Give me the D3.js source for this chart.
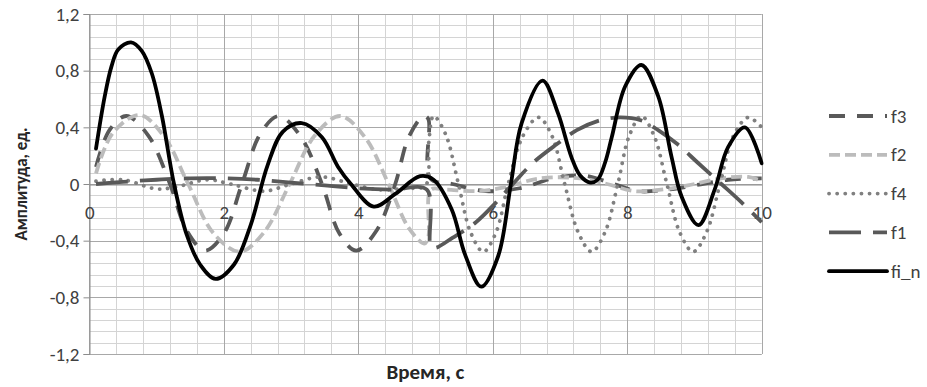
<!DOCTYPE html>
<html>
<head>
<meta charset="utf-8">
<script src="https://cdn.jsdelivr.net/npm/d3@7"></script>
<style>
    body { margin: 0; background: #fff; }
    svg { display: block; font-family: Calibri, Carlito, Lato, sans-serif; }
</style>
</head>
<body>
<div id="chart"></div>
<script>
const WIDTH = 927
const HEIGHT = 387

// time, amplitude pairs
const f3 = [
    [0.1, 0.12], [0.3, 0.38], [0.55, 0.48], [0.88, 0.34], [1.2, 0], [1.45, -0.33],
    [1.72, -0.47], [2.0, -0.35], [2.27, 0], [2.55, 0.36], [2.82, 0.48], [3.15, 0.33],
    [3.46, 0], [3.72, -0.35], [3.97, -0.47], [4.27, -0.33], [4.55, 0], [4.75, 0.33],
    [4.97, 0.48], [5.04, 0.46], [5.07, 0.04], [5.4, 0], [5.9, -0.05], [6.4, -0.03],
    [6.9, 0.04], [7.35, 0.06], [7.8, 0], [8.15, -0.05], [8.6, -0.04], [9.0, -0.01],
    [9.5, 0.03], [10, 0.04]
]
const f2 = [
    [0.1, 0.075], [0.35, 0.36], [0.75, 0.487], [1.12, 0.33], [1.47, 0], [1.85, -0.35],
    [2.24, -0.478], [2.6, -0.34], [2.98, 0], [3.35, 0.34], [3.73, 0.48], [4.1, 0.33],
    [4.45, 0], [4.75, -0.31], [4.98, -0.42], [5.04, -0.38], [5.08, -0.04], [5.3, -0.04],
    [5.8, -0.05], [6.2, -0.02], [6.7, 0.04], [7.3, 0.04], [7.7, 0], [8.1, -0.05],
    [8.5, -0.04], [8.9, -0.01], [9.4, 0.04], [9.8, 0.05], [10, 0.02]
]
const f4 = [
    [0.1, 0.02], [0.5, 0.03], [1.0, -0.035], [1.3, -0.02], [1.75, 0.03], [2.1, 0],
    [2.6, -0.05], [3.0, 0], [3.45, 0.05], [3.9, 0], [4.3, -0.04], [4.7, -0.03],
    [5.0, -0.01], [5.05, 0.3], [5.12, 0.48], [5.3, 0.35], [5.49, 0], [5.67, -0.34],
    [5.86, -0.478], [6.05, -0.34], [6.23, 0], [6.45, 0.34], [6.68, 0.47], [6.88, 0.34],
    [7.07, 0], [7.27, -0.34], [7.47, -0.478], [7.67, -0.34], [7.86, 0], [8.03, 0.34],
    [8.21, 0.48], [8.4, 0.34], [8.59, 0], [8.78, -0.34], [8.98, -0.478], [9.18, -0.34],
    [9.38, 0], [9.58, 0.34], [9.8, 0.47], [10, 0.4]
]
const f1 = [
    [0.1, 0], [0.5, 0.015], [1.0, 0.03], [1.5, 0.04], [2.0, 0.04], [2.5, 0.03],
    [3.0, 0.01], [3.5, -0.01], [4.0, -0.03], [4.5, -0.04], [5.02, -0.04], [5.08, -0.44],
    [5.15, -0.45], [5.4, -0.38], [5.75, -0.27], [6.05, -0.13], [6.3, 0], [6.6, 0.15],
    [6.95, 0.28], [7.25, 0.38], [7.6, 0.45], [7.9, 0.47], [8.2, 0.45], [8.46, 0.38],
    [8.75, 0.28], [9.05, 0.15], [9.4, 0], [9.7, -0.13], [10, -0.27]
]
const fiN = [
    [0.1, 0.25], [0.23, 0.62], [0.33, 0.83], [0.43, 0.95], [0.62, 1.0], [0.78, 0.94],
    [0.93, 0.78], [1.08, 0.48], [1.26, 0], [1.45, -0.36], [1.65, -0.57], [1.88, -0.67],
    [2.15, -0.57], [2.4, -0.29], [2.65, 0.13], [2.88, 0.37], [3.16, 0.43], [3.46, 0.33],
    [3.7, 0.12], [3.89, 0], [4.23, -0.16], [4.55, -0.07], [4.92, 0.055], [5.12, 0.03],
    [5.39, -0.18], [5.59, -0.5], [5.83, -0.725], [6.08, -0.51], [6.27, 0], [6.43, 0.43],
    [6.74, 0.73], [6.97, 0.5], [7.17, 0.19], [7.3, 0.06], [7.45, 0.01], [7.56, 0.03],
    [7.67, 0.15], [7.77, 0.33], [7.97, 0.69], [8.21, 0.84], [8.46, 0.62], [8.66, 0.19],
    [8.81, -0.09], [9.06, -0.29], [9.3, -0.04], [9.5, 0.26], [9.75, 0.4], [10, 0.146]
]

const seriesNames = ['f3', 'f2', 'f4', 'f1', 'fi_n']
const seriesData = [f3, f2, f4, f1, fiN]

const xTicks = [0, 2, 4, 6, 8, 10]
const yTicks = [-1.2, -0.8, -0.4, 0, 0.4, 0.8, 1.2]
const yTickLabels = ['-1,2', '-0,8', '-0,4', '0', '0,4', '0,8', '1,2']
const xTitle = 'Время, с'
const yTitle = 'Амплитуда, ед.'

const styles = {
    f3: { color: '#595959', dash: '16,12', cap: 'butt' },
    f2: { color: '#bcbcbc', dash: '11,5', cap: 'butt' },
    f4: { color: '#808080', dash: '0.1,8', cap: 'round' },
    f1: { color: '#595959', dash: '32,12', cap: 'butt' },
    fi_n: { color: '#000000', dash: null, cap: 'round' }
}

const FONT = 'Calibri, Carlito, Lato, sans-serif'
const plot = { left: 89.3, right: 761.7, top: 14, bottom: 354 }

const svg = d3.select('#chart')
    .append('svg')
    .attr('width', WIDTH)
    .attr('height', HEIGHT)

const x = d3.scaleLinear().domain([0, 10]).range([plot.left, plot.right])
const y = d3.scaleLinear().domain([-1.2, 1.2]).range([plot.bottom, plot.top])

const crisp = v => Math.round(v) + 0.5

// Grid: minor first, then major on top
const grid = svg.append('g')
grid.selectAll('.hminor')
    .data(d3.range(0, 31).map(i => -1.2 + i * 0.08))
    .enter().append('line')
    .attr('x1', plot.left).attr('x2', plot.right)
    .attr('y1', d => crisp(y(d))).attr('y2', d => crisp(y(d)))
    .attr('stroke', '#d4d4d4')
grid.selectAll('.vminor')
    .data(d3.range(0, 26).map(i => i * 0.4))
    .enter().append('line')
    .attr('y1', plot.top).attr('y2', plot.bottom)
    .attr('x1', d => crisp(x(d))).attr('x2', d => crisp(x(d)))
    .attr('stroke', '#d4d4d4')
grid.selectAll('.hmajor')
    .data(yTicks)
    .enter().append('line')
    .attr('x1', plot.left).attr('x2', plot.right)
    .attr('y1', d => crisp(y(d))).attr('y2', d => crisp(y(d)))
    .attr('stroke', '#a8a8a8')
grid.selectAll('.vmajor')
    .data(xTicks)
    .enter().append('line')
    .attr('y1', plot.top).attr('y2', plot.bottom)
    .attr('x1', d => crisp(x(d))).attr('x2', d => crisp(x(d)))
    .attr('stroke', '#a8a8a8')

// Axes
const yAxis = svg.append('g')
    .attr('transform', `translate(${crisp(plot.left)},0)`)
    .call(d3.axisLeft(y)
        .tickValues(yTicks)
        .tickSize(6)
        .tickPadding(4)
        .tickFormat((d, i) => yTickLabels[i]))
yAxis.selectAll('line, path').attr('stroke', '#8c8c8c')
yAxis.selectAll('text').attr('font-size', 19).attr('font-family', FONT).attr('fill', '#404040')

const xAxis = svg.append('g')
    .attr('transform', `translate(0,${crisp(y(0))})`)
    .call(d3.axisBottom(x).tickValues(xTicks).tickSize(0).tickPadding(21).tickFormat(d3.format('d')))
xAxis.selectAll('path').attr('stroke', '#8c8c8c')
xAxis.selectAll('text').attr('font-size', 19).attr('font-family', FONT).attr('fill', '#404040')

// Series, smoothed; centripetal keeps the jumps near t=5 from overshooting
const line = d3.line()
    .x(d => x(d[0]))
    .y(d => y(d[1]))
    .curve(d3.curveCatmullRom.alpha(0.5))

svg.append('defs').append('clipPath').attr('id', 'plot-clip')
    .append('rect')
    .attr('x', plot.left - 2).attr('y', plot.top - 2)
    .attr('width', plot.right - plot.left + 4).attr('height', plot.bottom - plot.top + 4)

svg.append('g')
    .attr('clip-path', 'url(#plot-clip)')
    .selectAll('path')
    .data(seriesNames)
    .enter()
    .append('path')
    .attr('d', (name, i) => line(seriesData[i]))
    .attr('fill', 'none')
    .attr('stroke', name => styles[name].color)
    .attr('stroke-width', 3.8)
    .attr('stroke-dasharray', name => styles[name].dash)
    .attr('stroke-linecap', name => styles[name].cap)
    .attr('stroke-linejoin', 'round')

// Legend
const legend = svg.append('g')
    .selectAll('g')
    .data(seriesNames)
    .enter()
    .append('g')
    .attr('transform', (d, i) => `translate(829,${116 + i * 38.8})`)

legend.append('line')
    .attr('x1', 0).attr('x2', 58)
    .attr('stroke', d => styles[d].color)
    .attr('stroke-width', 3.8)
    .attr('stroke-dasharray', d => styles[d].dash)
    .attr('stroke-linecap', d => styles[d].cap)

legend.append('text')
    .attr('x', 62)
    .attr('dy', '0.35em')
    .attr('font-size', 19)
    .attr('fill', '#404040')
    .text(d => d)

// Axis titles
svg.append('text')
    .attr('transform', `translate(27,${(plot.top + plot.bottom) / 2}) rotate(-90)`)
    .attr('text-anchor', 'middle')
    .attr('font-size', 17)
    .attr('font-weight', 'bold')
    .attr('fill', '#262626')
    .text(yTitle)

svg.append('text')
    .attr('x', (plot.left + plot.right) / 2)
    .attr('y', 379)
    .attr('text-anchor', 'middle')
    .attr('font-size', 21)
    .attr('font-weight', 'bold')
    .attr('fill', '#262626')
    .text(xTitle)
</script>
</body>
</html>
